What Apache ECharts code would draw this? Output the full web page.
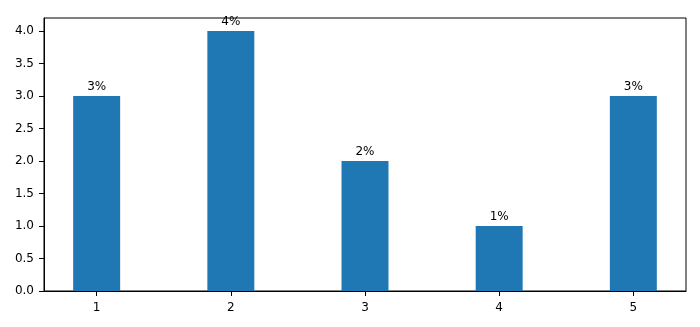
<!DOCTYPE html>
<html><head><meta charset="utf-8">
<script src="https://cdn.jsdelivr.net/npm/echarts@6/dist/echarts.min.js"></script>
<style>html,body{margin:0;padding:0;background:#fff}#c{width:700px;height:327px}</style>
</head><body><div id="c"></div>
<script>
const categories = [1, 2, 3, 4, 5];
const values = [3, 4, 2, 1, 3];
const labels = ['3%', '4%', '2%', '1%', '3%'];
const yTicks = [0, 0.5, 1, 1.5, 2, 2.5, 3, 3.5, 4];

const gridLeft = 44, gridRight = 14, gridTop = 18, gridBottom = 36;
const xMin = 0.6075, xMax = 5.3925, barW = 0.35;
const plotW = 700 - gridLeft - gridRight;
const font = 'DejaVu Sans';

const chart = echarts.init(document.getElementById('c'), null, {renderer: 'canvas'});
chart.setOption({
  animation: false,
  grid: {left: gridLeft, right: gridRight, top: gridTop, bottom: gridBottom, show: true, borderColor: '#000', borderWidth: 1, backgroundColor: 'transparent'},
  xAxis: {
    type: 'value', min: xMin, max: xMax,
    axisLine: {show: true, onZero: false, lineStyle: {color: '#000', width: 1}},
    splitLine: {show: false},
    axisTick: {show: true, length: 5, lineStyle: {color: '#000'}, customValues: categories},
    axisLabel: {color: '#000', fontFamily: font, fontSize: 12, margin: 11, customValues: categories, formatter: v => String(v)}
  },
  yAxis: {
    type: 'value', min: 0, max: 4.2,
    axisLine: {show: true, lineStyle: {color: '#000', width: 1}},
    splitLine: {show: false},
    axisTick: {show: true, length: 5, lineStyle: {color: '#000'}, customValues: yTicks},
    axisLabel: {color: '#000', fontFamily: font, fontSize: 12, margin: 10, customValues: yTicks, formatter: v => v.toFixed(1)}
  },
  series: [{
    type: 'bar',
    data: categories.map((c, i) => [c, values[i]]),
    barWidth: barW * plotW / (xMax - xMin),
    itemStyle: {color: '#1f77b4'},
    label: {show: true, position: 'top', distance: 3, color: '#000', fontFamily: font, fontSize: 12,
      formatter: p => labels[p.dataIndex]}
  }]
});
</script></body></html>
